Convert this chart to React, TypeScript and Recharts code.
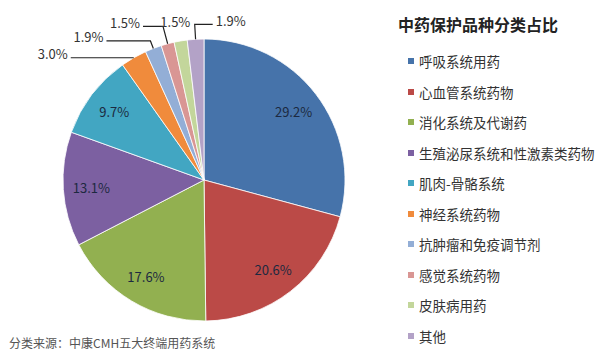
import { PieChart, Pie, Cell } from "recharts";

// 中药保护品种分类占比
const categories = [
  "呼吸系统用药",
  "心血管系统药物",
  "消化系统及代谢药",
  "生殖泌尿系统和性激素类药物",
  "肌肉-骨骼系统",
  "神经系统药物",
  "抗肿瘤和免疫调节剂",
  "感觉系统药物",
  "皮肤病用药",
  "其他",
];
const shares = [29.2, 20.6, 17.6, 13.1, 9.7, 3.0, 1.9, 1.5, 1.5, 1.9];
const colors = [
  "#4673aa",
  "#bb4a47",
  "#92b050",
  "#7c60a1",
  "#42a6c2",
  "#f08b3c",
  "#93aed6",
  "#d99694",
  "#c3d69b",
  "#b3a2c7",
];

const data = categories.map((name, i) => ({ name, value: shares[i] }));

// leader line layout for the small slices: [radial extension, horizontal run]
const leaders: Record<number, [number, number]> = {
  5: [0, -63],
  6: [8, -44],
  7: [18, -20],
  9: [15, 18],
};

const RAD = Math.PI / 180;

const renderLabel = (props: any) => {
  const { cx, cy, midAngle, outerRadius, index, value } = props;
  const cos = Math.cos(-midAngle * RAD);
  const sin = Math.sin(-midAngle * RAD);
  const text = `${value.toFixed(1)}%`;
  if (index < 5) {
    const r = outerRadius * 0.8;
    return (
      <text
        x={cx + r * cos}
        y={cy + r * sin}
        textAnchor="middle"
        dominantBaseline="central"
        fill="#1c2940"
        fontSize={13}
      >
        {text}
      </text>
    );
  }
  if (index === 8) {
    const r = outerRadius + 20;
    return (
      <text
        x={cx + r * cos - 2}
        y={cy + r * sin}
        textAnchor="middle"
        dominantBaseline="central"
        fill="#333"
        fontSize={13}
      >
        {text}
      </text>
    );
  }
  const [ext, run] = leaders[index];
  const sx = cx + outerRadius * cos;
  const sy = cy + outerRadius * sin;
  const mx = cx + (outerRadius + ext) * cos;
  const my = cy + (outerRadius + ext) * sin;
  const ex = mx + run;
  const left = run < 0;
  return (
    <g>
      <path
        d={`M${sx},${sy}L${mx},${my}L${ex},${my}`}
        stroke="#222"
        strokeWidth={1.2}
        fill="none"
      />
      <text
        x={ex + (left ? -3 : 3)}
        y={my - 4}
        textAnchor={left ? "end" : "start"}
        dominantBaseline="central"
        fill="#333"
        fontSize={13}
      >
        {text}
      </text>
    </g>
  );
};

export default function App() {
  return (
    <div
      style={{
        position: "relative",
        width: 604,
        height: 354,
        background: "#fff",
        fontFamily: "'Noto Sans CJK SC', 'Liberation Sans', sans-serif",
      }}
    >
      <style>{`body{margin:0}`}</style>
      <PieChart width={604} height={354}>
        <Pie
          data={data}
          dataKey="value"
          nameKey="name"
          cx={199}
          cy={175}
          outerRadius={141}
          startAngle={90}
          endAngle={-270}
          stroke="#ffffff"
          strokeWidth={0.8}
          label={renderLabel}
          labelLine={false}
          isAnimationActive={false}
        >
          {data.map((d, i) => (
            <Cell key={d.name} fill={colors[i]} />
          ))}
        </Pie>
      </PieChart>
      <div style={{ position: "absolute", left: 398, top: 13 }}>
        <div
          style={{
            fontSize: 16,
            fontWeight: 700,
            color: "#222",
            lineHeight: "22px",
            marginBottom: 11,
          }}
        >
          中药保护品种分类占比
        </div>
        {categories.map((name, i) => (
          <div
            key={name}
            style={{
              display: "flex",
              alignItems: "center",
              height: 30.5,
              marginLeft: 10,
              fontSize: 13.5,
              color: "#333",
            }}
          >
            <span
              style={{
                width: 6,
                height: 6,
                background: colors[i],
                marginRight: 5,
                display: "inline-block",
              }}
            />
            {name}
          </div>
        ))}
      </div>
      <div
        style={{
          position: "absolute",
          left: 9,
          top: 334,
          fontSize: 12,
          color: "#555",
          lineHeight: "18px",
        }}
      >
        分类来源：中康CMH五大终端用药系统
      </div>
    </div>
  );
}
